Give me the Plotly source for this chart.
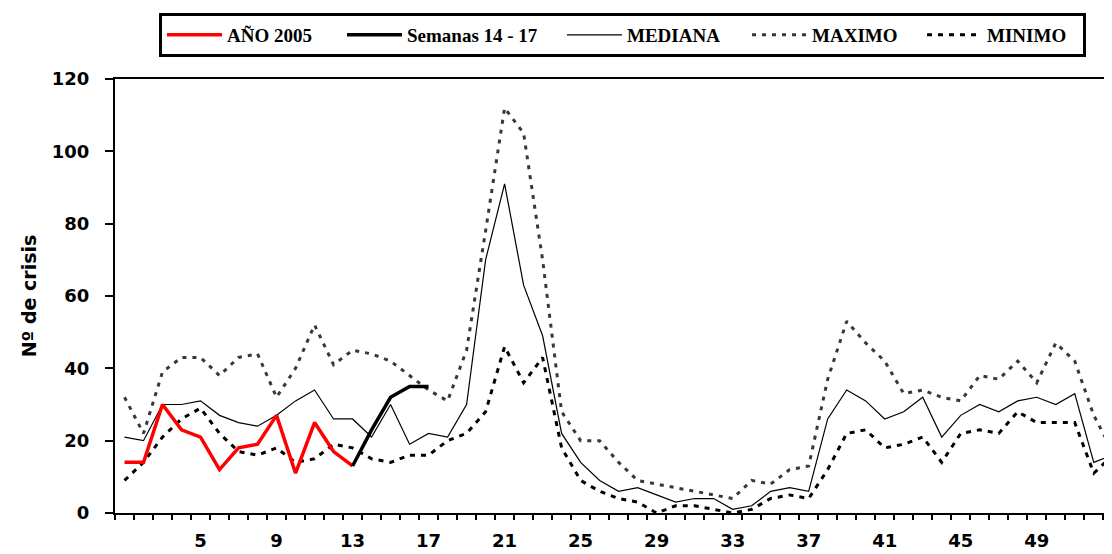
import plotly.graph_objects as go

# ---- data ----
weeks = list(range(1, 54))

ano2005_weeks = list(range(1, 14))
ano2005 = [14, 14, 30, 23, 21, 12, 18, 19, 27, 11, 25, 17, 13]

semanas_weeks = [13, 14, 15, 16, 17]
semanas = [13, 23, 32, 35, 35]

mediana = [21, 20, 30, 30, 31, 27, 25, 24, 27, 31, 34, 26, 26, 21, 30, 19, 22, 21, 30, 70,
           91, 63, 49, 22, 14, 9, 6, 7, 5, 3, 4, 4, 1, 2, 6, 7, 6, 26, 34, 31,
           26, 28, 32, 21, 27, 30, 28, 31, 32, 30, 33, 14, 16]

maximo = [32, 22, 39, 43, 43, 38, 43, 44, 32, 40, 52, 41, 45, 44, 42, 38, 34, 31, 45, 78,
          112, 105, 70, 28, 20, 20, 14, 9, 8, 7, 6, 5, 4, 9, 8, 12, 13, 37, 53, 47,
          42, 33, 34, 32, 31, 38, 37, 42, 36, 47, 42, 27, 17]

minimo = [9, 14, 21, 26, 29, 22, 17, 16, 18, 14, 15, 19, 18, 15, 14, 16, 16, 20, 22, 28,
          46, 36, 43, 18, 9, 6, 4, 3, 0, 2, 2, 1, 0, 1, 4, 5, 4, 12, 22, 23,
          18, 19, 21, 14, 22, 23, 22, 28, 25, 25, 25, 11, 16]

x_tick_labels = [5, 9, 13, 17, 21, 25, 29, 33, 37, 41, 45, 49]
y_ticks = [0, 20, 40, 60, 80, 100, 120]

fig = go.Figure()

fig.add_trace(go.Scatter(x=weeks, y=maximo, mode="lines", name="MAXIMO", legendrank=4,
                         legendwidth=105,
                         line=dict(color="#383838", width=3, dash="4px,6px")))
fig.add_trace(go.Scatter(x=weeks, y=minimo, mode="lines", name="MINIMO", legendrank=5,
                         legendwidth=91,
                         line=dict(color="#000000", width=3, dash="5px,6px")))
fig.add_trace(go.Scatter(x=weeks, y=mediana, mode="lines", name="MEDIANA", legendrank=3,
                         legendwidth=115,
                         line=dict(color="#000000", width=1.2)))
fig.add_trace(go.Scatter(x=ano2005_weeks, y=ano2005, mode="lines", name="AÑO 2005", legendrank=1,
                         legendwidth=110,
                         line=dict(color="#ff0000", width=3.5)))
fig.add_trace(go.Scatter(x=semanas_weeks, y=semanas, mode="lines", name="Semanas 14 - 17", legendrank=2,
                         legendwidth=150,
                         line=dict(color="#000000", width=3.5)))

tick_font = dict(family="DejaVu Sans", size=18, color="black", weight="bold")

# the page body adds an 8px offset; the figure is sized so that it fills the window
fig.update_layout(
    width=1104, height=546,
    margin=dict(l=107, r=0, t=71, b=41, pad=0),
    paper_bgcolor="white", plot_bgcolor="white",
    showlegend=True,
    legend=dict(
        orientation="h", xref="container", yref="container",
        x=151 / 1104, y=1 - 5 / 546, xanchor="left", yanchor="top",
        bgcolor="white", bordercolor="black", borderwidth=3,
        font=dict(family="Liberation Serif", size=19, color="black", weight="bold"),
        itemwidth=55, traceorder="normal",
    ),
    xaxis=dict(
        range=[0.5, 52.96], showgrid=False, zeroline=False, automargin=False,
        showline=True, linecolor="black", linewidth=2, mirror=True,
        tickmode="array", tickvals=x_tick_labels, ticktext=[str(v) for v in x_tick_labels],
        ticks="", tickfont=tick_font, ticklabelstandoff=10,
        minor=dict(tickmode="array", tickvals=[k + 0.5 for k in range(0, 54)],
                   ticks="outside", ticklen=5, tickwidth=1.5, tickcolor="black", showgrid=False),
    ),
    yaxis=dict(
        range=[0, 120], showgrid=False, zeroline=False, automargin=False,
        showline=True, linecolor="black", linewidth=2,
        tickmode="array", tickvals=y_ticks,
        ticks="outside", ticklen=8, tickwidth=1.5, tickcolor="black",
        tickfont=tick_font, ticklabelstandoff=12,
        title=dict(text="Nº de crisis", standoff=10,
                   font=dict(family="DejaVu Sans", size=19, color="black", weight="bold")),
    ),
)

fig.write_html("out.html")
